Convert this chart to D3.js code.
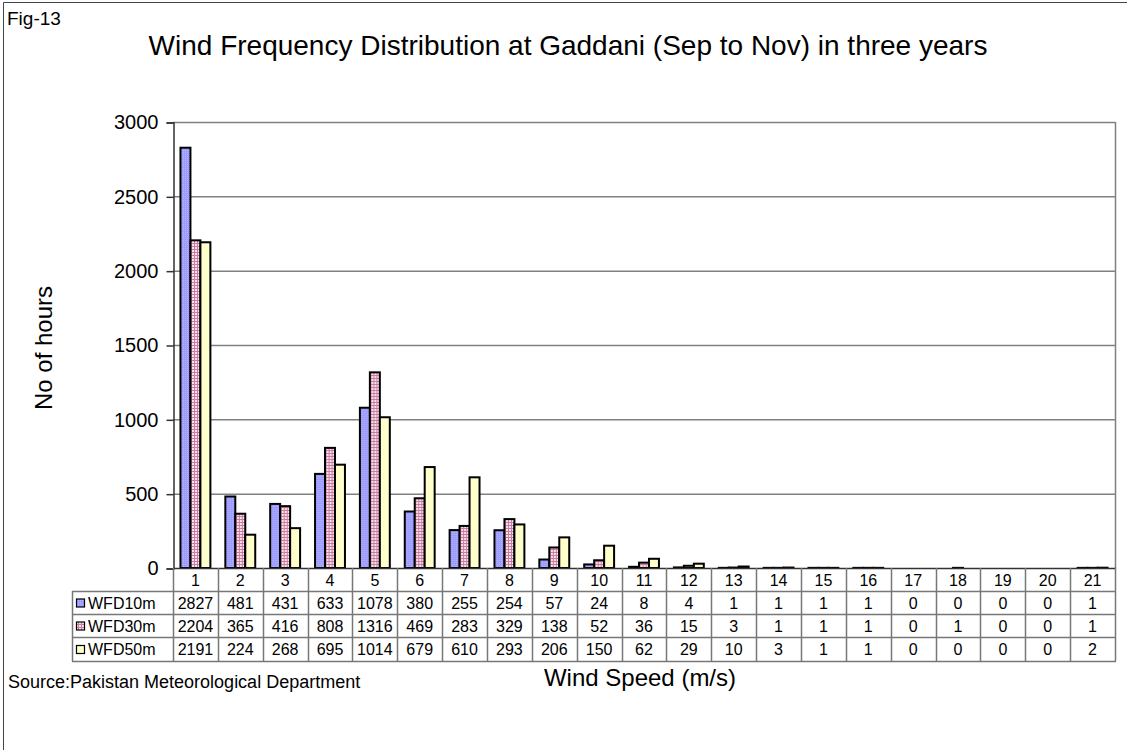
<!DOCTYPE html>
<html>
<head>
<meta charset="utf-8">
<script src="https://cdn.jsdelivr.net/npm/d3@7"></script>
<style>
  body { margin: 0; background: #fff; }
  text { font-family: Arial, "Liberation Sans", sans-serif; fill: #000; }
</style>
</head>
<body>
<svg width="1127" height="750"></svg>
<script>
// wind speed classes (m/s)
var speeds = ["1","2","3","4","5","6","7","8","9","10","11","12","13","14","15","16","17","18","19","20","21"];
var seriesNames = ["WFD10m", "WFD30m", "WFD50m"];
var wfd10 = [2827, 481, 431, 633, 1078, 380, 255, 254, 57, 24, 8, 4, 1, 1, 1, 1, 0, 0, 0, 0, 1];
var wfd30 = [2204, 365, 416, 808, 1316, 469, 283, 329, 138, 52, 36, 15, 3, 1, 1, 1, 0, 1, 0, 0, 1];
var wfd50 = [2191, 224, 268, 695, 1014, 679, 610, 293, 206, 150, 62, 29, 10, 3, 1, 1, 0, 0, 0, 0, 2];
var yTicks = [0, 500, 1000, 1500, 2000, 2500, 3000];

var seriesValues = [wfd10, wfd30, wfd50];

var svg = d3.select("svg");

var plotLeft = 173, plotRight = 1115, plotTop = 122, plotBottom = 568;
var rowLines = [568, 591, 614, 637, 661];
var legendLeft = 72;

var x = d3.scaleBand().domain(speeds).range([plotLeft, plotRight]);
var x1 = d3.scaleBand().domain(seriesNames).range([0, x.bandwidth()]).paddingOuter(0.75);
var y = d3.scaleLinear().domain([0, 3000]).range([plotBottom, plotTop]);

// patterns for the three series
var defs = svg.append("defs");
var pBlue = defs.append("pattern").attr("id", "pBlue").attr("width", 2).attr("height", 2)
    .attr("patternUnits", "userSpaceOnUse");
pBlue.append("rect").attr("width", 2).attr("height", 2).attr("fill", "#9c9cff");
pBlue.append("rect").attr("width", 1).attr("height", 1).attr("fill", "#b4b4ff");

var pPink = defs.append("pattern").attr("id", "pPink").attr("width", 3).attr("height", 3)
    .attr("patternUnits", "userSpaceOnUse");
pPink.append("rect").attr("width", 3).attr("height", 3).attr("fill", "#f6e4ec");
pPink.append("rect").attr("width", 3).attr("height", 1).attr("fill", "#cc7aa0");
pPink.append("rect").attr("width", 1).attr("height", 3).attr("fill", "#cc7aa0");

var fills = { "WFD10m": "url(#pBlue)", "WFD30m": "url(#pPink)", "WFD50m": "#ffffcc" };

// outer frame
svg.append("path")
    .attr("d", "M3.5,760V2.5H1140")
    .attr("fill", "none").attr("stroke", "#444").attr("stroke-width", 1);

// titles
svg.append("text").attr("x", 7).attr("y", 25).attr("font-size", 19).text("Fig-13");
svg.append("text").attr("x", 568).attr("y", 55).attr("text-anchor", "middle")
    .attr("font-size", 28).text("Wind Frequency Distribution at Gaddani (Sep to Nov) in three years");

// gridlines
svg.append("g").selectAll("line")
  .data(yTicks.filter(function(d) { return d > 0; }))
  .enter().append("line")
    .attr("x1", plotLeft).attr("x2", plotRight)
    .attr("y1", function(d) { return y(d) + 0.5; })
    .attr("y2", function(d) { return y(d) + 0.5; })
    .attr("stroke", "#808080").attr("stroke-width", 1.5);

// right border of plot area
svg.append("line")
    .attr("x1", plotRight + 0.5).attr("x2", plotRight + 0.5).attr("y1", plotTop).attr("y2", plotBottom)
    .attr("stroke", "#808080").attr("stroke-width", 1.5);

// y axis
var yAxis = d3.axisLeft(y).tickValues(yTicks).tickSize(7).tickPadding(8).tickFormat(d3.format("d"));
var gy = svg.append("g").attr("transform", "translate(" + (plotLeft + 0.5) + ",0.5)").call(yAxis);
gy.select(".domain").attr("stroke", "#333").attr("stroke-width", 1.5);
gy.selectAll(".tick line").attr("stroke", "#333").attr("stroke-width", 1.5);
gy.selectAll("text").attr("font-size", 20).attr("fill", "#000")
    .attr("font-family", "Arial, 'Liberation Sans', sans-serif");

svg.append("text")
    .attr("transform", "translate(52,348) rotate(-90)")
    .attr("text-anchor", "middle").attr("font-size", 24).text("No of hours");

// bars
var groups = svg.append("g").selectAll("g")
  .data(speeds)
  .enter().append("g")
    .attr("transform", function(d) { return "translate(" + x(d) + ",0)"; });

groups.selectAll("rect")
  .data(function(d, i) {
    return seriesNames.map(function(s, j) { return { key: s, value: seriesValues[j][i] }; });
  })
  .enter().append("rect")
    .attr("x", function(d) { return x1(d.key); })
    .attr("width", x1.bandwidth())
    .attr("y", function(d) { return y(d.value); })
    .attr("height", function(d) { return plotBottom - y(d.value); })
    .attr("fill", function(d) { return fills[d.key]; })
    .attr("stroke", "#000").attr("stroke-width", 2);

// x axis line
svg.append("line")
    .attr("x1", plotLeft).attr("x2", plotRight + 1).attr("y1", plotBottom + 0.5).attr("y2", plotBottom + 0.5)
    .attr("stroke", "#333").attr("stroke-width", 1.5);

// data table
var table = svg.append("g");
var edges = speeds.map(function(d) { return x(d); }).concat([plotRight]);
table.selectAll("line.v")
  .data(edges)
  .enter().append("line")
    .attr("x1", function(d) { return Math.round(d) + 0.5; })
    .attr("x2", function(d) { return Math.round(d) + 0.5; })
    .attr("y1", plotBottom).attr("y2", rowLines[4])
    .attr("stroke", "#777").attr("stroke-width", 1.5);
table.selectAll("line.h")
  .data(rowLines.slice(1))
  .enter().append("line")
    .attr("x1", legendLeft).attr("x2", plotRight + 1)
    .attr("y1", function(d) { return d + 0.5; })
    .attr("y2", function(d) { return d + 0.5; })
    .attr("stroke", "#777").attr("stroke-width", 1.5);
table.append("line")
    .attr("x1", legendLeft + 0.5).attr("x2", legendLeft + 0.5)
    .attr("y1", rowLines[1]).attr("y2", rowLines[4])
    .attr("stroke", "#777").attr("stroke-width", 1.5);

table.selectAll("text.cat")
  .data(speeds)
  .enter().append("text")
    .attr("x", function(d) { return x(d) + x.bandwidth() / 2; })
    .attr("y", (rowLines[0] + rowLines[1]) / 2 + 6)
    .attr("text-anchor", "middle").attr("font-size", 16)
    .text(function(d) { return d; });

seriesNames.forEach(function(s, j) {
  var cy = (rowLines[j + 1] + rowLines[j + 2]) / 2;
  table.selectAll("text.s" + j)
    .data(seriesValues[j])
    .enter().append("text")
      .attr("x", function(d, i) { return x(speeds[i]) + x.bandwidth() / 2; })
      .attr("y", cy + 6)
      .attr("text-anchor", "middle").attr("font-size", 16)
      .text(function(d) { return d; });
  table.append("rect")
      .attr("x", legendLeft + 4.5).attr("y", cy - 3.5)
      .attr("width", 8).attr("height", 8)
      .attr("fill", fills[s]).attr("stroke", "#000").attr("stroke-width", 1.2);
  table.append("text")
      .attr("x", legendLeft + 16).attr("y", cy + 6)
      .attr("font-size", 16).text(s);
});

svg.append("text").attr("x", 640).attr("y", 686).attr("text-anchor", "middle")
    .attr("font-size", 24).text("Wind Speed (m/s)");
svg.append("text").attr("x", 8).attr("y", 688)
    .attr("font-size", 18).text("Source:Pakistan Meteorological Department");
</script>
</body>
</html>
